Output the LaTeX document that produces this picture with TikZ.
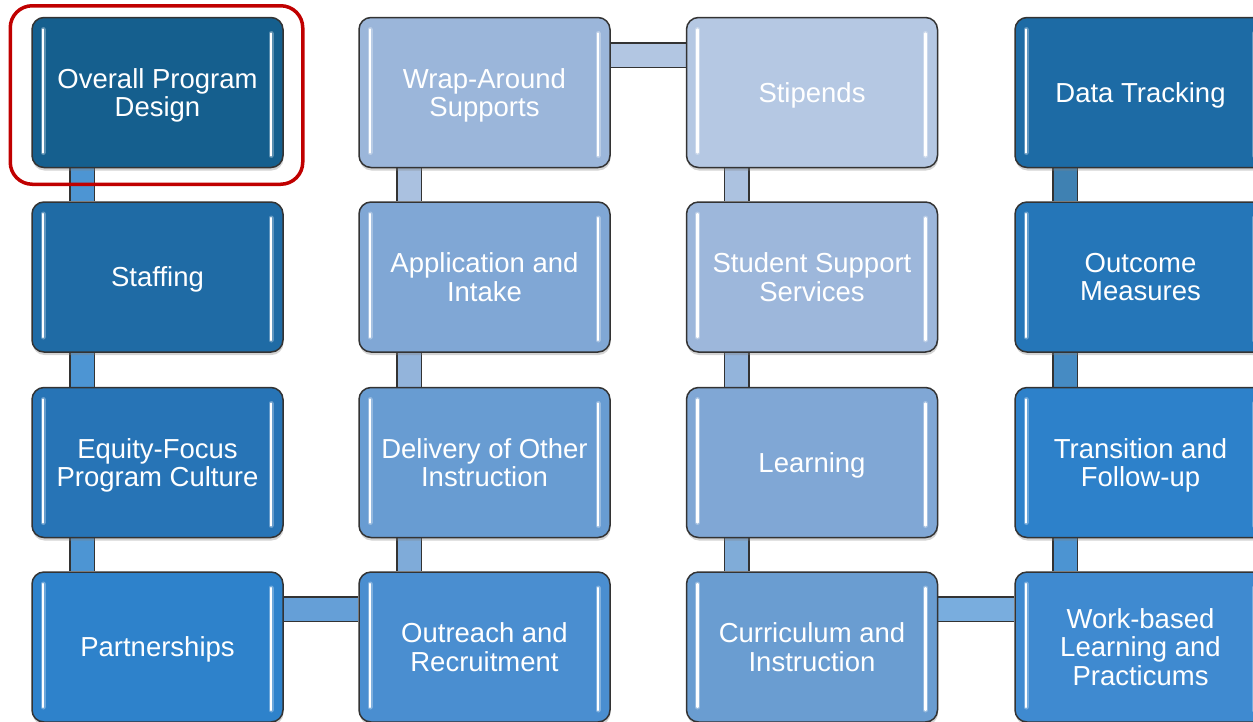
\documentclass[tikz,border=0pt]{standalone}
\usepackage{fontspec}
\setmainfont{Liberation Sans}
\usetikzlibrary{shadows,backgrounds}

\definecolor{designblue}{HTML}{155F8E}
\definecolor{staffblue}{HTML}{1F6BA5}
\definecolor{equityblue}{HTML}{2774B6}
\definecolor{partnerblue}{HTML}{2E82CB}
\definecolor{outreachblue}{HTML}{4A8ED0}
\definecolor{deliveryblue}{HTML}{689CD2}
\definecolor{intakeblue}{HTML}{80A7D5}
\definecolor{wrapblue}{HTML}{9BB6DA}
\definecolor{stipendblue}{HTML}{B5C8E3}
\definecolor{supportblue}{HTML}{9DB7DB}
\definecolor{learnblue}{HTML}{80A7D5}
\definecolor{curricblue}{HTML}{6A9DD1}
\definecolor{wblblue}{HTML}{3F8AD0}
\definecolor{transitblue}{HTML}{2D81CA}
\definecolor{outcomeblue}{HTML}{2576B8}
\definecolor{trackblue}{HTML}{1D6BA5}
\definecolor{framered}{HTML}{C00000}

\tikzset{
  block/.style={rectangle, rounded corners=12pt, draw=black!80, line width=1.5pt,
    fill=#1, text=white, align=center, inner sep=0pt,
    minimum width=251pt, minimum height=150pt, text depth=-6pt,
    font=\fontsize{27.5}{28.5}\selectfont,
    drop shadow={shadow xshift=0.5pt, shadow yshift=-3pt, opacity=.35},
    path picture={
      \foreach \w/\o in {5pt/.3, 2.2pt/1}
        \draw[white, line width=\w, opacity=\o, line cap=round]
          ([xshift=11pt,yshift=-12pt]path picture bounding box.north west) --
          ([xshift=11pt,yshift=15pt]path picture bounding box.south west)
          ([xshift=-12pt,yshift=-16pt]path picture bounding box.north east) --
          ([xshift=-12pt,yshift=12pt]path picture bounding box.south east);
    }},
  link/.style={draw=black!80, line width=1.5pt, double=#1, double distance=23pt},
  frame/.style={draw=framered, line width=3.5pt, rounded corners=22pt}
}

\begin{document}
\begin{tikzpicture}[x=1pt,y=-1pt]
\useasboundingbox (0,0) rectangle (1253,721);

% first column
\node[block=designblue] (design) at (157.5,92.5) {Overall Program\\Design};
\node[block=staffblue] (staffing) at (157.5,277) {Staffing};
\node[block=equityblue] (equity) at (157.5,462.5) {Equity-Focus\\Program Culture};
\node[block=partnerblue] (partners) at (157.5,647) {Partnerships};

% second column
\node[block=wrapblue] (wrap) at (484.5,92.5) {Wrap-Around\\Supports};
\node[block=intakeblue] (intake) at (484.5,277) {Application and\\Intake};
\node[block=deliveryblue] (delivery) at (484.5,462.5) {Delivery of Other\\Instruction};
\node[block=outreachblue] (outreach) at (484.5,647) {Outreach and\\Recruitment};

% third column
\node[block=stipendblue] (stipends) at (812,92.5) {Stipends};
\node[block=supportblue] (support) at (812,277) {Student Support\\Services};
\node[block=learnblue] (learning) at (812,462.5) {Learning};
\node[block=curricblue] (curric) at (812,647) {Curriculum and\\Instruction};

% fourth column
\node[block=trackblue] (tracking) at (1140.5,92.5) {Data Tracking};
\node[block=outcomeblue] (outcome) at (1140.5,277) {Outcome\\Measures};
\node[block=transitblue] (transition) at (1140.5,462.5) {Transition and\\Follow-up};
\node[block=wblblue] (wbl) at (1140.5,647) {Work-based\\Learning and\\Practicums};

\begin{scope}[on background layer]
\draw[link=partnerblue!85!white] ([xshift=51pt]design.south west) -- ([xshift=51pt]staffing.north west);
\draw[link=partnerblue!85!white] ([xshift=51pt]staffing.south west) -- ([xshift=51pt]equity.north west);
\draw[link=partnerblue!85!white] ([xshift=51pt]equity.south west) -- ([xshift=51pt]partners.north west);
\draw[link=outreachblue!85!white] ([yshift=-38pt]partners.north east) -- ([yshift=-38pt]outreach.north west);
\draw[link=deliveryblue!85!white] ([xshift=51pt]outreach.north west) -- ([xshift=51pt]delivery.south west);
\draw[link=intakeblue!85!white] ([xshift=51pt]delivery.north west) -- ([xshift=51pt]intake.south west);
\draw[link=wrapblue!85!white] ([xshift=51pt]intake.north west) -- ([xshift=51pt]wrap.south west);
\draw[link=stipendblue!90!wrapblue] ([yshift=-38.5pt]wrap.north east) -- ([yshift=-38.5pt]stipends.north west);
\draw[link=supportblue!85!white] ([xshift=51pt]stipends.south west) -- ([xshift=51pt]support.north west);
\draw[link=learnblue!85!white] ([xshift=51pt]support.south west) -- ([xshift=51pt]learning.north west);
\draw[link=curricblue!85!white] ([xshift=51pt]learning.south west) -- ([xshift=51pt]curric.north west);
\draw[link=wblblue!70!white] ([yshift=-38pt]curric.north east) -- ([yshift=-38pt]wbl.north west);
\draw[link=transitblue!85!white] ([xshift=51pt]wbl.north west) -- ([xshift=51pt]transition.south west);
\draw[link=outcomeblue!85!white] ([xshift=51pt]transition.north west) -- ([xshift=51pt]outcome.south west);
\draw[link=trackblue!85!white] ([xshift=51pt]outcome.north west) -- ([xshift=51pt]tracking.south west);
\end{scope}

\draw[frame] ([shift={(-21pt,11pt)}]design.north west) rectangle ([shift={(19pt,-16pt)}]design.south east);
\end{tikzpicture}
\end{document}
